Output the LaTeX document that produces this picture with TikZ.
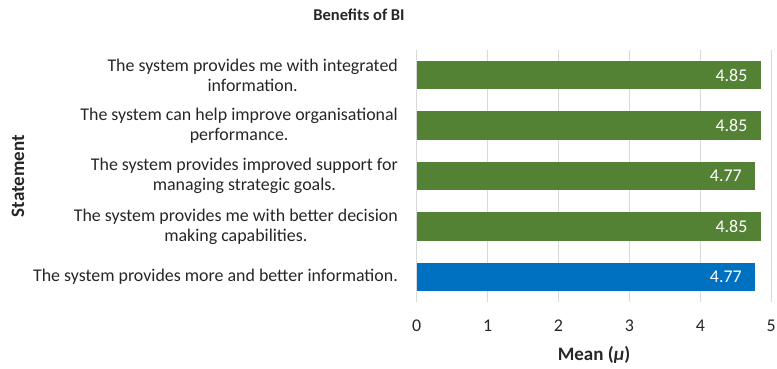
\documentclass[tikz,border=0pt]{standalone}
\usepackage{fontspec}
\setmainfont{Carlito}
\usepackage{xcolor}
\definecolor{barGreen}{HTML}{548235}
\definecolor{barBlue}{HTML}{0070C0}
\definecolor{gridGray}{HTML}{D9D9D9}
\definecolor{txtGray}{HTML}{262626}

\begin{document}
\begin{tikzpicture}[x=1pt,y=-1pt,
    every node/.style={font=\fontsize{17.9}{20}\selectfont,text=txtGray,inner sep=0pt},
    gridline/.style={draw=gridGray,line width=1.2pt},
    statlabel/.style={anchor=east,align=center},
    barval/.style={anchor=east,text=white},
    ticklabel/.style={anchor=center},
    charttitle/.style={font=\fontsize{16.5}{20}\selectfont\bfseries},
    axistitle/.style={font=\fontsize{19}{22}\selectfont\bfseries}]
    \useasboundingbox (0,0) rectangle (777,368);
    % grid
    \foreach \k in {0,...,5}{
      \coordinate (gt\k) at ({416.7+70.9*\k},50);
      \coordinate (gb\k) at ({416.7+70.9*\k},302);
      \draw[gridline] (gt\k) -- (gb\k);
      \node[ticklabel] (tick\k) at ({416.7+70.9*\k},326) {\k};
    }
    % bars
    \foreach \i/\v/\c/\t in {
      0/4.85/barGreen/{The system provides me with integrated\\information.},
      1/4.85/barGreen/{The system can help improve organisational\\performance.},
      2/4.77/barGreen/{The system provides improved support for\\managing strategic goals.},
      3/4.85/barGreen/{The system provides me with better decision\\making capabilities.},
      4/4.77/barBlue/{The system provides more and better information.}}{
      \coordinate (b\i) at (416.7,{75+50.5*\i});
      \fill[\c] (416.7,{75+50.5*\i-14.25}) rectangle ({416.7+70.9*\v},{75+50.5*\i+14.25});
      \node[barval] (val\i) at ({416.7+70.9*\v-13},{75+50.5*\i}) {\v};
      \node[statlabel] (lab\i) at (398,{75+50.5*\i}) {\t};
    }
    % titles
    \node[charttitle] (title) at (359,15) {Benefits of BI};
    \node[axistitle] (xtitle) at (594,355) {Mean (\textit{μ})};
    \node[axistitle,rotate=90] (ytitle) at (18,176) {Statement};
  \end{tikzpicture}
\end{document}
